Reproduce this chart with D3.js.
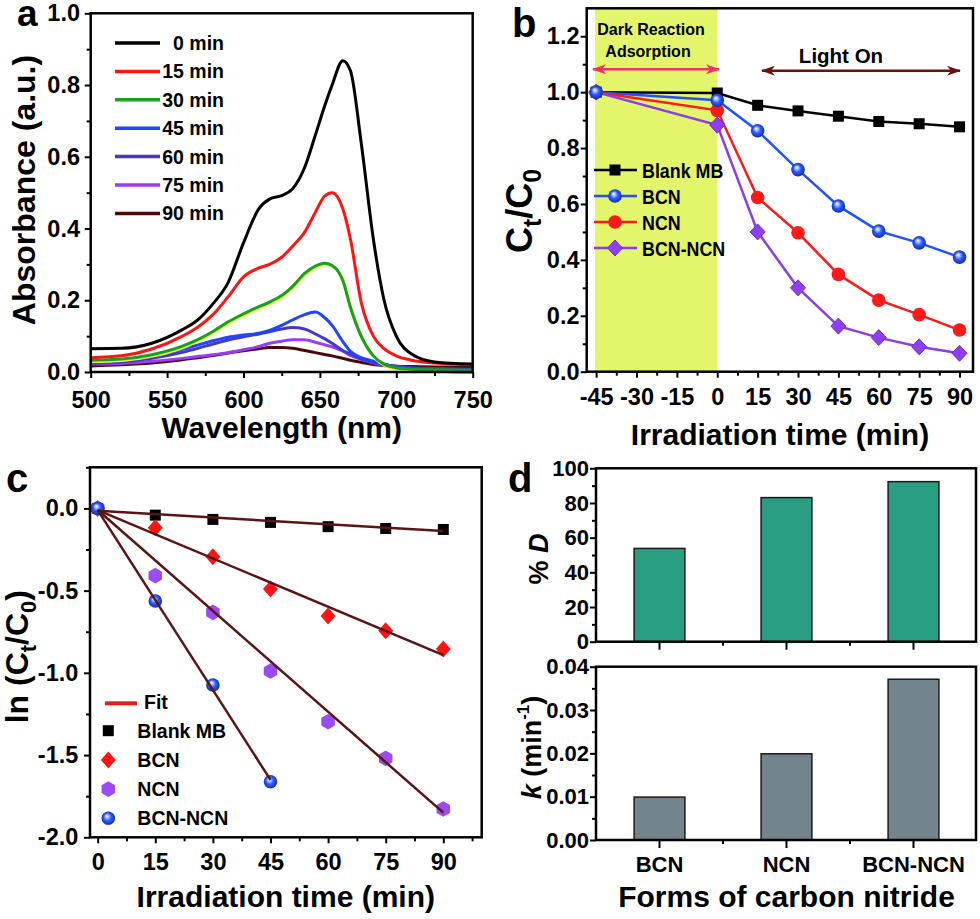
<!DOCTYPE html>
<html>
<head>
<meta charset="utf-8">
<script src="https://cdn.jsdelivr.net/npm/d3@7"></script>
<style>
  body { margin: 0; background: #fff; }
  svg text { font-family: "Liberation Sans", Arial, sans-serif; font-weight: bold; fill: #000; }
</style>
</head>
<body>
<svg id="fig" width="980" height="919"></svg>
<script>
// ---------- panel a: UV-vis spectra
const wavelengths = [500,520,540,560,570,580,590,600,610,617,625,632,640,647,653,658,665,670,677,685,692,700,710,725,750];
const abs0  = [.065,.066,.080,.118,.145,.190,.250,.360,.455,.482,.492,.510,.570,.660,.740,.800,.868,.840,.640,.370,.200,.100,.050,.028,.022];
const abs15 = [.040,.045,.064,.100,.125,.160,.210,.265,.290,.300,.320,.350,.390,.445,.490,.500,.455,.370,.195,.100,.065,.045,.033,.025,.020];
const abs30 = [.033,.036,.048,.072,.090,.113,.140,.162,.182,.195,.213,.238,.275,.295,.303,.297,.255,.180,.100,.045,.022,.012,.008,.006,.005];
const abs45 = [.028,.032,.043,.063,.075,.087,.097,.103,.108,.116,.130,.145,.160,.167,.152,.130,.085,.058,.040,.030,.022,.015,.008,.003,.000];
const abs60 = [.025,.028,.038,.055,.066,.078,.089,.098,.106,.112,.120,.124,.120,.106,.093,.080,.060,.050,.037,.027,.021,.016,.012,.010,.008];
const abs75 = [.022,.024,.030,.038,.043,.048,.054,.062,.071,.080,.086,.090,.090,.083,.076,.070,.058,.046,.035,.025,.018,.013,.009,.006,.004];
const abs90 = [.017,.020,.025,.034,.040,.046,.053,.059,.065,.068,.068,.066,.060,.054,.049,.045,.038,.033,.027,.021,.018,.016,.015,.014,.013];
const spectraLabels = ["0 min","15 min","30 min","45 min","60 min","75 min","90 min"];
const spectraColors = ["#000000","#ff1414","#18a020","#1f45ff","#4338c8","#9a3cf5","#4b0808"];

// ---------- panel b: Ct/C0 vs time
const timeB   = [-45, 0, 15, 30, 45, 60, 75, 90];
const blankB  = [1.000, 0.997, 0.953, 0.933, 0.914, 0.895, 0.887, 0.876];
const bcnB    = [1.000, 0.971, 0.862, 0.723, 0.593, 0.503, 0.461, 0.410];
const ncnB    = [1.000, 0.935, 0.623, 0.497, 0.348, 0.256, 0.204, 0.149];
const bcnNcnB = [1.000, 0.882, 0.500, 0.300, 0.163, 0.122, 0.089, 0.066];
const seriesNames = ["Blank MB","BCN","NCN","BCN-NCN"];

// ---------- panel c: ln(Ct/C0) vs time
const timeC   = [0, 15, 30, 45, 60, 75, 90];
const blankC  = [0, -0.041, -0.067, -0.085, -0.111, -0.122, -0.128];
const bcnC    = [0, -0.118, -0.294, -0.490, -0.655, -0.744, -0.855];
const ncnC    = [0, -0.409, -0.632, -0.989, -1.297, -1.520, -1.828];
const bcnNcnC = [0, -0.563, -1.074, -1.662];
const fitStart = [-0.014, -0.010, -0.010, -0.010];
const fitEndT  = [90, 90, 90, 45];
const fitEnd   = [-0.138, -0.892, -1.850, -1.651];

// ---------- panel d: bars
const forms = ["BCN","NCN","BCN-NCN"];
const degradation = [53.8, 83.1, 92.3];
const rateK = [0.0099, 0.0199, 0.0371];

const svg = d3.select("#fig");
const defs = svg.append("defs");

// shiny blue ball
const ball = defs.append("radialGradient").attr("id", "ball")
  .attr("cx", "50%").attr("cy", "50%").attr("r", "55%").attr("fx", "38%").attr("fy", "32%");
[[0, "#ffffff"], [0.18, "#c0cdff"], [0.5, "#2d5dff"], [1, "#0a2896"]]
  .forEach(([o, c]) => ball.append("stop").attr("offset", o).attr("stop-color", c));

// arrow heads
function arrowDef(id, color) {
  defs.append("marker").attr("id", id)
    .attr("viewBox", "0 0 14 10").attr("markerUnits", "userSpaceOnUse")
    .attr("markerWidth", 14).attr("markerHeight", 10)
    .attr("refX", 13).attr("refY", 5).attr("orient", "auto-start-reverse")
    .append("path").attr("d", "M0,0 L14,5 L0,10 L4,5 Z").attr("fill", color);
}
arrowDef("arrPink", "#f0306a");
arrowDef("arrBrown", "#6e1010");

// axes + frame helper
function addAxes(g, x, y, o) {
  const xr = o.xRange || x.range(), yr = y.range();
  if (o.xMinor) g.append("g").attr("class", "ax").attr("transform", `translate(0,${yr[0]})`)
    .call(d3.axisBottom(x).tickValues(o.xMinor).tickSize(4).tickFormat(""));
  if (o.xMajor) g.append("g").attr("class", "ax").attr("transform", `translate(0,${yr[0]})`)
    .call(d3.axisBottom(x).tickValues(o.xMajor).tickSize(6).tickPadding(o.xPad).tickFormat(o.xFmt))
    .attr("font-size", o.fs);
  g.append("g").attr("class", "ax").attr("transform", `translate(${xr[0]},0)`)
    .call(d3.axisLeft(y).tickValues(o.yMinor).tickSize(4).tickFormat(""));
  g.append("g").attr("class", "ax").attr("transform", `translate(${xr[0]},0)`)
    .call(d3.axisLeft(y).tickValues(o.yMajor).tickSize(6).tickPadding(o.yPad).tickFormat(o.yFmt))
    .attr("font-size", o.fs);
  g.selectAll(".ax .domain").remove();
  g.selectAll(".ax line").attr("stroke-width", 2);
  g.append("rect").attr("x", xr[0]).attr("y", yr[1])
    .attr("width", xr[1] - xr[0]).attr("height", yr[0] - yr[1])
    .attr("fill", "none").attr("stroke", "#000").attr("stroke-width", 2.5);
}

function rotTitle(g, x, y, size) {
  return g.append("text").attr("transform", `translate(${x},${y}) rotate(-90)`)
    .attr("text-anchor", "middle").attr("font-size", size);
}

// squeeze text horizontally (the original uses a narrow bold face)
function narrow(sel, k) {
  sel.each(function () {
    const w = this.getComputedTextLength();
    d3.select(this).attr("textLength", w * k).attr("lengthAdjust", "spacingAndGlyphs");
  });
}

// marker shapes
function drawMark(g, type, x, y) {
  switch (type) {
    case "square":
      g.append("rect").attr("x", x - 5.5).attr("y", y - 5.5).attr("width", 11).attr("height", 11).attr("fill", "#000");
      break;
    case "ball":
      g.append("circle").attr("cx", x).attr("cy", y).attr("r", 6.8).attr("fill", "url(#ball)");
      break;
    case "circle":
      g.append("circle").attr("cx", x).attr("cy", y).attr("r", 6.8).attr("fill", "#ff1a1a");
      break;
    case "diamond":
      g.append("path").attr("d", `M${x},${y - 8}L${x + 7.5},${y}L${x},${y + 8}L${x - 7.5},${y}Z`)
        .attr("fill", "#8f3ef0").attr("stroke", "#6a2ac8").attr("stroke-width", 1);
      break;
    case "diamondRed":
      g.append("path").attr("d", `M${x},${y - 8.5}L${x + 7.5},${y}L${x},${y + 8.5}L${x - 7.5},${y}Z`)
        .attr("fill", "#ff1414");
      break;
    case "hex": {
      const pts = d3.range(6).map(k => {
        const a = Math.PI / 2 + k * Math.PI / 3;
        return [x + 7.8 * Math.cos(a), y + 7.8 * Math.sin(a)];
      });
      g.append("path").attr("d", "M" + pts.join("L") + "Z").attr("fill", "#9a4cf2");
      break;
    }
  }
}

const f1 = d => d.toFixed(1);

// ======================= panel a
{
  const g = svg.append("g");
  const x = d3.scaleLinear().domain([500, 750]).range([90.7, 472.7]);
  const y = d3.scaleLinear().domain([0, 1]).range([372, 13.3]);
  const spectra = [abs0, abs15, abs30, abs45, abs60, abs75, abs90];
  const line = d3.line().x((d, i) => x(wavelengths[i])).y(d => y(d)).curve(d3.curveMonotoneX);
  // draw from last to first so the big curves sit on top
  for (let s = spectra.length - 1; s >= 0; s--) {
    if (s === 2) {
      g.append("path").attr("d", line(spectra[s])).attr("fill", "none")
        .attr("stroke", "#f2f04a").attr("stroke-width", 3).attr("transform", "translate(0.8,1.3)");
    }
    g.append("path").attr("d", line(spectra[s])).attr("fill", "none")
      .attr("stroke", spectraColors[s]).attr("stroke-width", 3).attr("stroke-linejoin", "round");
  }
  addAxes(g, x, y, {
    xMajor: d3.range(500, 751, 50), xMinor: d3.range(525, 750, 50), xPad: 13.5, xFmt: d => d,
    yMajor: d3.range(0, 1.01, 0.2), yMinor: d3.range(0.1, 1, 0.2), yPad: 4.7, yFmt: f1, fs: 23.5
  });
  g.append("text").attr("x", 281.7).attr("y", 438).attr("text-anchor", "middle").attr("font-size", 30).text("Wavelength (nm)");
  rotTitle(g, 35, 190, 32).text("Absorbance (a.u.)");
  g.append("text").attr("x", 17).attr("y", 26).attr("font-size", 37).text("a");

  // legend
  spectraLabels.forEach((lab, i) => {
    const ly = 43 + i * 28.4;
    g.append("line").attr("x1", 115).attr("x2", 160).attr("y1", ly).attr("y2", ly)
      .attr("stroke", spectraColors[i]).attr("stroke-width", 3.5);
    g.append("text").attr("x", 224).attr("y", ly + 7).attr("text-anchor", "end").attr("font-size", 19.5).text(lab);
  });
}

// ======================= panel b
{
  const g = svg.append("g");
  const x = d3.scaleLinear().domain([-48.5, 95]).range([586.7, 973]);
  const y = d3.scaleLinear().domain([0, 1.3]).range([371.7, 8.3]);
  g.append("rect").attr("x", x(-45) - 1).attr("y", y(1.3)).attr("width", x(0) - x(-45) + 1)
    .attr("height", y(0) - y(1.3)).attr("fill", "#e3f56a");

  const series = [blankB, bcnB, ncnB, bcnNcnB];
  const colors = ["#000000", "#2050ff", "#ff1a1a", "#8a3ee8"];
  const marks = ["square", "ball", "circle", "diamond"];
  const line = d3.line().x((d, i) => x(timeB[i])).y(d => y(d));
  series.forEach((s, k) => {
    g.append("path").attr("d", line(s)).attr("fill", "none").attr("stroke", colors[k]).attr("stroke-width", 2.5);
  });
  [0, 2, 3, 1].forEach(k => series[k].forEach((v, i) => drawMark(g, marks[k], x(timeB[i]), y(v))));

  addAxes(g, x, y, {
    xMajor: d3.range(-45, 91, 15), xMinor: d3.range(-37.5, 91, 15), xPad: 10.6, xFmt: d => d,
    yMajor: d3.range(0, 1.21, 0.2), yMinor: d3.range(0.1, 1.3, 0.2), yPad: 1.2, yFmt: f1, fs: 23.5
  });
  g.append("text").attr("x", 780).attr("y", 445).attr("text-anchor", "middle").attr("font-size", 30).text("Irradiation time (min)");
  const yt = rotTitle(g, 532, 211, 36);
  yt.append("tspan").text("C");
  yt.append("tspan").attr("dy", 9).attr("font-size", 25).text("t");
  yt.append("tspan").attr("dy", -9).text("/C");
  yt.append("tspan").attr("dy", 9).attr("font-size", 25).text("0");
  g.append("text").attr("x", 512).attr("y", 37).attr("font-size", 40).text("b");

  // annotations
  g.append("text").attr("x", 651).attr("y", 35).attr("text-anchor", "middle").attr("font-size", 16).text("Dark Reaction");
  g.append("text").attr("x", 648).attr("y", 57).attr("text-anchor", "middle").attr("font-size", 16).text("Adsorption");
  g.append("line").attr("x1", 593).attr("x2", 719).attr("y1", 69.3).attr("y2", 69.3)
    .attr("stroke", "#f0306a").attr("stroke-width", 2.5)
    .attr("marker-start", "url(#arrPink)").attr("marker-end", "url(#arrPink)");
  g.append("text").attr("x", 841).attr("y", 63).attr("text-anchor", "middle").attr("font-size", 20.5).text("Light On");
  g.append("line").attr("x1", 762).attr("x2", 960).attr("y1", 70.7).attr("y2", 70.7)
    .attr("stroke", "#6e1010").attr("stroke-width", 2.5)
    .attr("marker-start", "url(#arrBrown)").attr("marker-end", "url(#arrBrown)");

  // legend
  seriesNames.forEach((nm, k) => {
    const ly = 170 + k * 26;
    g.append("line").attr("x1", 594).attr("x2", 637).attr("y1", ly).attr("y2", ly)
      .attr("stroke", colors[k]).attr("stroke-width", 2.5);
    drawMark(g, marks[k], 615, ly);
    g.append("text").attr("x", 642).attr("y", ly + 7.5).attr("font-size", 20.5).text(nm).call(narrow, 0.87);
  });
}

// ======================= panel c
{
  const g = svg.append("g");
  const x = d3.scaleLinear().domain([-2, 100]).range([90, 481.7]);
  const y = d3.scaleLinear().domain([-2, 0.25]).range([837.3, 467.3]);
  const series = [blankC, bcnC, ncnC, bcnNcnC];
  const marks = ["square", "diamondRed", "hex", "ball"];
  series.forEach((s, k) => s.forEach((v, i) => drawMark(g, marks[k], x(timeC[i]), y(v))));
  fitEnd.forEach((v, k) => {
    g.append("line").attr("x1", x(0)).attr("y1", y(fitStart[k])).attr("x2", x(fitEndT[k])).attr("y2", y(v))
      .attr("stroke", "#5a1414").attr("stroke-width", 2.5);
  });
  addAxes(g, x, y, {
    xMajor: d3.range(0, 91, 15), xMinor: d3.range(7.5, 100, 15), xPad: 10, xFmt: d => d,
    yMajor: d3.range(-2, 0.01, 0.5), yMinor: d3.range(-1.75, 0.26, 0.5), yPad: 5.7, yFmt: f1, fs: 23.5
  });
  g.append("text").attr("x", 285.8).attr("y", 906.7).attr("text-anchor", "middle").attr("font-size", 30).text("Irradiation time (min)");
  const yt = rotTitle(g, 28, 656.7, 32);
  yt.append("tspan").text("ln (C");
  yt.append("tspan").attr("dy", 8).attr("font-size", 22).text("t");
  yt.append("tspan").attr("dy", -8).text("/C");
  yt.append("tspan").attr("dy", 8).attr("font-size", 22).text("0");
  yt.append("tspan").attr("dy", -8).text(")");
  g.append("text").attr("x", 6).attr("y", 492).attr("font-size", 40).text("c");

  // legend
  g.append("line").attr("x1", 105).attr("x2", 137).attr("y1", 703.3).attr("y2", 703.3)
    .attr("stroke", "#e41e1e").attr("stroke-width", 4);
  g.append("text").attr("x", 144).attr("y", 709).attr("font-size", 19.5).text("Fit");
  seriesNames.forEach((nm, k) => {
    const ly = 730.7 + k * 29.2;
    drawMark(g, marks[k], 108.3, ly);
    g.append("text").attr("x", 137.3).attr("y", ly + 7).attr("font-size", 19.5).text(nm);
  });
}

// ======================= panel d
{
  const g = svg.append("g");
  const x = d3.scaleBand().domain(forms).range([596, 977]).paddingInner(0.6).paddingOuter(0.3);
  const yTop = d3.scaleLinear().domain([0, 100]).range([641.7, 468.3]);
  const yBot = d3.scaleLinear().domain([0, 0.04]).range([840, 666.7]);
  const xr = [596, 976];

  const bars = (vals, y, fill) => g.append("g").selectAll("rect").data(vals).enter().append("rect")
    .attr("x", (d, i) => x(forms[i])).attr("width", x.bandwidth())
    .attr("y", d => y(d)).attr("height", d => y(0) - y(d))
    .attr("fill", fill).attr("stroke", "#1a1a1a").attr("stroke-width", 1.5);
  bars(degradation, yTop, "#2a9e80");
  bars(rateK, yBot, "#74848d");

  [[yTop, false], [yBot, true]].forEach(([y, labels]) => {
    g.append("g").attr("class", "ax").attr("transform", `translate(0,${y(0)})`)
      .call(d3.axisBottom(x).tickSize(8).tickPadding(8.7).tickFormat(labels ? (d => d) : ""))
      .attr("font-size", 22);
    // minor ticks between categories
    g.append("g").selectAll("line").data(forms.slice(0, 2)).enter().append("line")
      .attr("x1", d => x(d) + x.bandwidth() / 2 + x.step() / 2)
      .attr("x2", d => x(d) + x.bandwidth() / 2 + x.step() / 2)
      .attr("y1", y(0)).attr("y2", y(0) + 4).attr("stroke", "#000").attr("stroke-width", 2);
  });
  addAxes(g, x, yTop, {
    xRange: xr, yMajor: d3.range(0, 101, 20), yMinor: d3.range(10, 100, 20), yPad: 1, yFmt: d => d, fs: 22
  });
  addAxes(g, x, yBot, {
    xRange: xr, yMajor: d3.range(0, 0.0401, 0.01), yMinor: d3.range(0.005, 0.04, 0.01), yPad: 1,
    yFmt: d => d.toFixed(2), fs: 22
  });

  g.append("text").attr("x", 786.5).attr("y", 906.7).attr("text-anchor", "middle").attr("font-size", 30).text("Forms of carbon nitride");
  const t1 = rotTitle(g, 548, 559, 27);
  t1.append("tspan").text("% ");
  t1.append("tspan").attr("font-style", "italic").text("D");
  const t2 = rotTitle(g, 541, 747.5, 27);
  t2.append("tspan").attr("font-style", "italic").text("k");
  t2.append("tspan").text(" (min");
  t2.append("tspan").attr("dy", -12).attr("font-size", 17).text("-1");
  t2.append("tspan").attr("dy", 12).text(")");
  g.append("text").attr("x", 508).attr("y", 492).attr("font-size", 40).text("d");
}
</script>
</body>
</html>
